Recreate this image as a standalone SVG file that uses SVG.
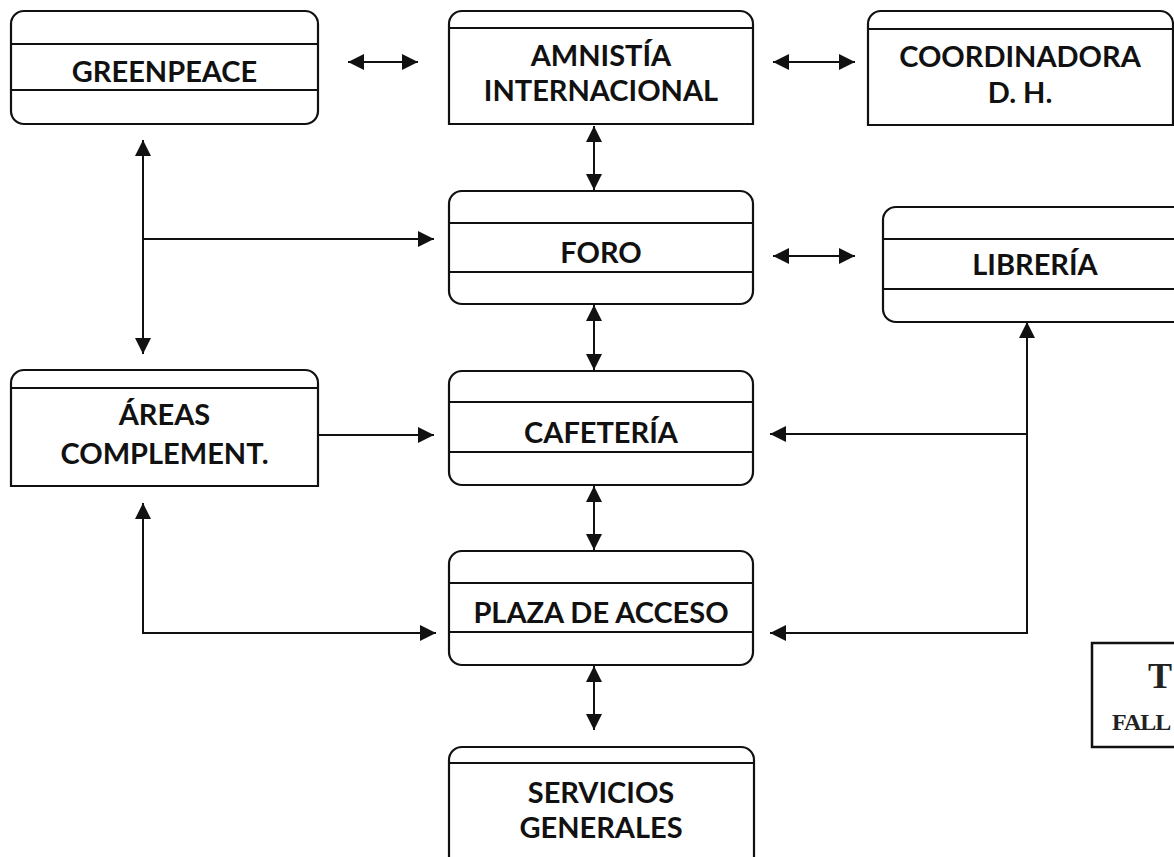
<svg xmlns="http://www.w3.org/2000/svg" width="1174" height="857" viewBox="0 0 1174 857">
<style>
.box{fill:#fff;stroke:#111;stroke-width:2.2}
.sep{stroke:#111;stroke-width:2}
.lbl{font-family:Lato,"Open Sans","Liberation Sans",sans-serif;font-weight:700;font-size:29px;fill:#111;text-anchor:middle}
.con{fill:none;stroke:#111;stroke-width:2}
.stamp{font-family:"Liberation Serif","DejaVu Serif",serif;font-weight:700;fill:#222}
</style>
<defs>
<marker id="ah" viewBox="0 0 16 16" refX="16" refY="8" markerWidth="16" markerHeight="16" markerUnits="userSpaceOnUse" orient="auto-start-reverse">
<path d="M0,0 L16,8 L0,16 z" fill="#111"/>
</marker>
</defs>
<rect width="1174" height="857" fill="#fff"/>

<g id="connectors">
<line class="con" x1="348" y1="62" x2="418" y2="62" marker-start="url(#ah)" marker-end="url(#ah)"/>
<line class="con" x1="773" y1="62" x2="855" y2="62" marker-start="url(#ah)" marker-end="url(#ah)"/>
<line class="con" x1="594" y1="126" x2="594" y2="190" marker-start="url(#ah)" marker-end="url(#ah)"/>
<line class="con" x1="773" y1="256" x2="855" y2="256" marker-start="url(#ah)" marker-end="url(#ah)"/>
<line class="con" x1="594" y1="305" x2="594" y2="370" marker-start="url(#ah)" marker-end="url(#ah)"/>
<line class="con" x1="594" y1="486" x2="594" y2="550" marker-start="url(#ah)" marker-end="url(#ah)"/>
<line class="con" x1="594" y1="666" x2="594" y2="730" marker-start="url(#ah)" marker-end="url(#ah)"/>
<line class="con" x1="143" y1="140" x2="143" y2="354" marker-start="url(#ah)" marker-end="url(#ah)"/>
<line class="con" x1="143" y1="239" x2="434" y2="239" marker-end="url(#ah)"/>
<line class="con" x1="318" y1="435" x2="434" y2="435" marker-end="url(#ah)"/>
<polyline class="con" points="143,503 143,633 436,633" marker-start="url(#ah)" marker-end="url(#ah)"/>
<polyline class="con" points="1027,322 1027,633 770,633" marker-start="url(#ah)" marker-end="url(#ah)"/>
<line class="con" x1="1027" y1="434" x2="770" y2="434" marker-end="url(#ah)"/>
</g>

<g id="greenpeace">
<rect class="box" x="11" y="11" width="307" height="113" rx="13"/>
<line class="sep" x1="11" y1="44" x2="318" y2="44"/>
<line class="sep" x1="11" y1="90" x2="318" y2="90"/>
<text class="lbl" x="164.5" y="82">GREENPEACE</text>
</g>

<g id="amnistia">
<path class="box" d="M449,124 V24 A13,13 0 0 1 462,11 H740 A13,13 0 0 1 753,24 V124 Z"/>
<line class="sep" x1="449" y1="28" x2="753" y2="28"/>
<text class="lbl" x="601" y="66">AMNISTÍA</text>
<text class="lbl" x="601" y="101">INTERNACIONAL</text>
</g>

<g id="coordinadora">
<path class="box" d="M868,125 V24 A13,13 0 0 1 881,11 H1160 A13,13 0 0 1 1173,24 V125 Z"/>
<line class="sep" x1="868" y1="29" x2="1173" y2="29"/>
<text class="lbl" x="1020" y="67">COORDINADORA</text>
<text class="lbl" x="1020" y="103">D. H.</text>
</g>

<g id="foro">
<rect class="box" x="449" y="191" width="304" height="113" rx="13"/>
<line class="sep" x1="449" y1="223" x2="753" y2="223"/>
<line class="sep" x1="449" y1="272" x2="753" y2="272"/>
<text class="lbl" x="601" y="263">FORO</text>
</g>

<g id="libreria">
<rect class="box" x="883" y="207" width="320" height="115" rx="13"/>
<line class="sep" x1="883" y1="239" x2="1174" y2="239"/>
<line class="sep" x1="883" y1="289" x2="1174" y2="289"/>
<text class="lbl" x="1035" y="275">LIBRERÍA</text>
</g>

<g id="areas">
<path class="box" d="M11,486 V383 A13,13 0 0 1 24,370 H305 A13,13 0 0 1 318,383 V486 Z"/>
<line class="sep" x1="11" y1="388" x2="318" y2="388"/>
<text class="lbl" x="164.5" y="425">ÁREAS</text>
<text class="lbl" x="164.5" y="464">COMPLEMENT.</text>
</g>

<g id="cafeteria">
<rect class="box" x="449" y="371" width="304" height="114" rx="13"/>
<line class="sep" x1="449" y1="402" x2="753" y2="402"/>
<line class="sep" x1="449" y1="452" x2="753" y2="452"/>
<text class="lbl" x="601" y="443">CAFETERÍA</text>
</g>

<g id="plaza">
<rect class="box" x="449" y="551" width="304" height="114" rx="13"/>
<line class="sep" x1="449" y1="583" x2="753" y2="583"/>
<line class="sep" x1="449" y1="632" x2="753" y2="632"/>
<text class="lbl" x="601" y="623">PLAZA DE ACCESO</text>
</g>

<g id="servicios">
<path class="box" d="M449,880 V760 A13,13 0 0 1 462,747 H741 A13,13 0 0 1 754,760 V880"/>
<line class="sep" x1="449" y1="763" x2="754" y2="763"/>
<text class="lbl" x="601" y="803">SERVICIOS</text>
<text class="lbl" x="601" y="838">GENERALES</text>
</g>

<g id="stamp">
<rect x="1092" y="643" width="120" height="104" fill="none" stroke="#111" stroke-width="2.5"/>
<text class="stamp" x="1148" y="688" font-size="36">T</text>
<text class="stamp" x="1112" y="730" font-size="24" letter-spacing="-1">FALL</text>
</g>
</svg>
